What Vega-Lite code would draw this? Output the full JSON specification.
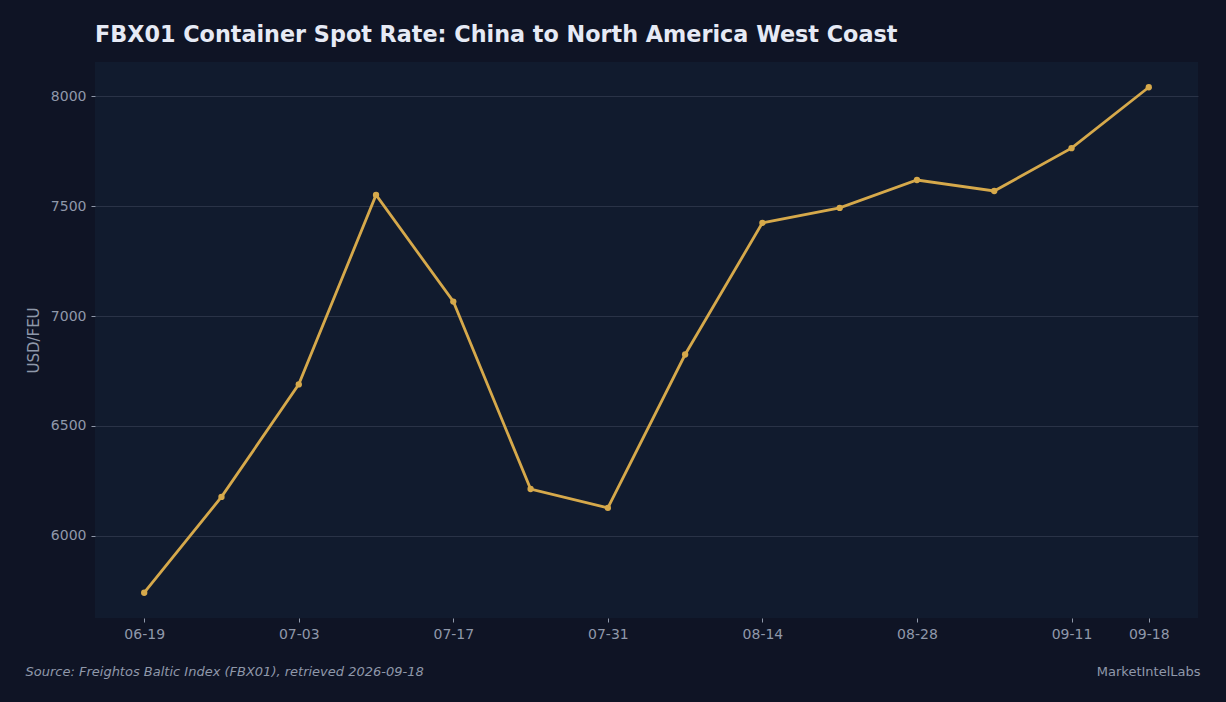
{
  "$schema": "https://vega.github.io/schema/vega-lite/v6.json",
  "description": "FBX01 weekly container spot rate, China to North America West Coast.",
  "autosize": {"type": "none"},
  "width": 1103,
  "height": 556,
  "padding": {"left": 95, "top": 62, "right": 28, "bottom": 84},
  "background": "#0f1425",
  "view": {"fill": "#111b2e", "stroke": null},
  "title": {
    "text": "FBX01 Container Spot Rate: China to North America West Coast",
    "anchor": "start",
    "frame": "group",
    "font": "DejaVu Sans",
    "fontSize": 22.3,
    "fontWeight": "bold",
    "color": "#e6eaf5",
    "baseline": "alphabetic",
    "offset": -2
  },
  "config": {
    "font": "DejaVu Sans",
    "axis": {
      "labelColor": "#8f98aa",
      "labelFont": "DejaVu Sans",
      "labelFontSize": 14,
      "titleColor": "#8f98aa",
      "titleFont": "DejaVu Sans",
      "titleFontWeight": "normal",
      "tickColor": "#8f98aa",
      "tickSize": 4,
      "domain": false
    }
  },
  "data": {
    "values": [
      {"date": "2026-06-19", "rate": 5741},
      {"date": "2026-06-26", "rate": 6177},
      {"date": "2026-07-03", "rate": 6689},
      {"date": "2026-07-10", "rate": 7551},
      {"date": "2026-07-17", "rate": 7066},
      {"date": "2026-07-24", "rate": 6213},
      {"date": "2026-07-31", "rate": 6127},
      {"date": "2026-08-07", "rate": 6825},
      {"date": "2026-08-14", "rate": 7424},
      {"date": "2026-08-21", "rate": 7492},
      {"date": "2026-08-28", "rate": 7619},
      {"date": "2026-09-04", "rate": 7569},
      {"date": "2026-09-11", "rate": 7764},
      {"date": "2026-09-18", "rate": 8041}
    ]
  },
  "resolve": {"axis": {"x": "independent"}},
  "layer": [
    {
      "mark": {"type": "line", "color": "#d6a94b", "strokeWidth": 2.8},
      "encoding": {
        "x": {
          "field": "date",
          "type": "temporal",
          "scale": {
            "type": "utc",
            "domain": [
              {"year": 2026, "month": 6, "date": 14, "hours": 13, "utc": true},
              {"year": 2026, "month": 9, "date": 22, "hours": 11, "utc": true}
            ]
          },
          "axis": {
            "values": [
              {"year": 2026, "month": 6, "date": 19, "utc": true},
              {"year": 2026, "month": 7, "date": 3, "utc": true},
              {"year": 2026, "month": 7, "date": 17, "utc": true},
              {"year": 2026, "month": 7, "date": 31, "utc": true},
              {"year": 2026, "month": 8, "date": 14, "utc": true},
              {"year": 2026, "month": 8, "date": 28, "utc": true},
              {"year": 2026, "month": 9, "date": 11, "utc": true},
              {"year": 2026, "month": 9, "date": 18, "utc": true}
            ],
            "labelExpr": "utcFormat(datum.value, '%m-%d')",
            "grid": false,
            "labelPadding": 5,
            "labelFlush": false,
            "labelOverlap": false,
            "title": "Source: Freightos Baltic Index (FBX01), retrieved 2026-09-18",
            "titleFontStyle": "italic",
            "titleFontSize": 13,
            "titleAnchor": "start",
            "titleAlign": "left",
            "titleBaseline": "alphabetic",
            "titleX": -70,
            "titleY": 57
          }
        },
        "y": {
          "field": "rate",
          "type": "quantitative",
          "scale": {"domain": [5626, 8156], "nice": false, "zero": false},
          "axis": {
            "values": [6000, 6500, 7000, 7500, 8000],
            "format": "d",
            "grid": true,
            "gridColor": "#2a3347",
            "gridWidth": 1,
            "labelPadding": 5,
            "title": "USD/FEU",
            "titleFontSize": 15,
            "titlePadding": 9
          }
        }
      }
    },
    {
      "mark": {"type": "circle", "color": "#d6a94b", "size": 40, "opacity": 1},
      "encoding": {
        "x": {
          "field": "date",
          "type": "temporal",
          "axis": {
            "orient": "bottom",
            "labels": false,
            "ticks": false,
            "grid": false,
            "title": "MarketIntelLabs",
            "titleFontSize": 13,
            "titleAlign": "right",
            "titleAnchor": "end",
            "titleBaseline": "alphabetic",
            "titleX": 1105,
            "titleY": 57
          }
        },
        "y": {"field": "rate", "type": "quantitative"}
      }
    }
  ]
}
